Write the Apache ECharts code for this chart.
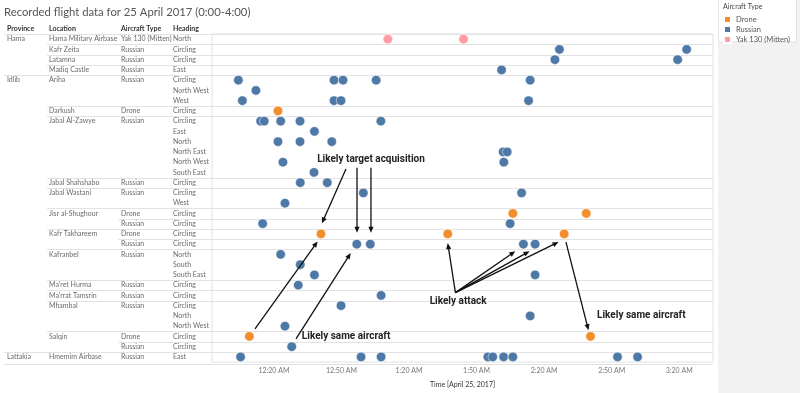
<!DOCTYPE html>
<html><head><meta charset="utf-8">
<script src="https://cdn.jsdelivr.net/npm/echarts@6/dist/echarts.min.js"></script>
<style>html,body{margin:0;padding:0;background:#fff}#c{width:800px;height:393px}</style>
</head><body><div id="c"></div>
<script>
// ---- table columns (one entry per row) ----
const provinces = ['Hama','','','','Idlib','','','','','','','','','','','','','','','','','','','','','','','','','','','Lattakia'];
const locations = ['Hama Military Airbase','Kafr Zeita','Latamna','Madiq Castle','Ariha','','','Darkush','Jabal Al-Zawye','','','','','','Jabal Shahshabo','Jabal Wastani','','Jisr al-Shughour','','Kafr Takhareem','','Kafranbel','','',"Ma'ret Hurma","Ma'rrat Tamsrin",'Mhambal','','','Salqin','','Hmemim Airbase'];
const aircraftTypes = ['Yak 130 (Mitten)','Russian','Russian','Russian','Russian','','','Drone','Russian','','','','','','Russian','Russian','','Drone','Russian','Drone','Russian','Russian','','','Russian','Russian','Russian','','','Drone','Russian','Russian'];
const headings = ['North','Circling','Circling','East','Circling','North West','West','Circling','Circling','East','North','North East','North West','South East','Circling','Circling','West','Circling','Circling','Circling','Circling','North','South','South East','Circling','Circling','Circling','North','North West','Circling','Circling','East'];
// minutes after 0:00 on 25 April 2017, per row
const flightTimes = [
  [70.6,104.2],
  [146.8,203.3],
  [144.8,199.3],
  [121.1],
  [4.2,46.7,50.7,65.4,133.8],
  [12.0],
  [6.0,46.7,49.8,133.1],
  [21.8],
  [14.1,15.7,23.0,31.6,67.5],
  [38.0],
  [21.8,31.6,45.7],
  [121.8,123.6],
  [24.0,122.1],
  [37.8],
  [31.7,43.7],
  [59.7,130.0],
  [24.9],
  [126.1,158.7],
  [15.0,124.9],
  [40.9,97.2,148.9],
  [56.8,62.8,130.8,136.0],
  [23.0],
  [31.7],
  [38.0,136.0],
  [30.8],
  [67.6],
  [49.8],
  [133.8],
  [24.9],
  [9.1,160.6],
  [27.9],
  [5.2,58.7,67.6,115.0,117.2,122.0,126.1,172.6,181.5]
];
const tickValues = [20,50,80,110,140,170,200];
const tickLabels = ['12:20 AM','12:50 AM','1:20 AM','1:50 AM','2:20 AM','2:50 AM','3:20 AM'];
const legendTypes = ['Drone','Russian','Yak 130 (Mitten)'];
const columnHeaders = ['Province','Location','Aircraft Type','Heading'];

// ---- styles ----
const typeColors = {'Drone':'#F28E2B','Russian':'#4E79A7','Yak 130 (Mitten)':'#FF9DA7'};
const FONT = "Lato, 'Noto Sans', sans-serif";
const ANNO_FONT = "'Liberation Sans Narrow', Roboto, sans-serif";
const colX = [7, 49, 121, 173];
const GRID = {left:212, top:34, right:87, bottom:28};

// resolve aircraft type per row (carry forward merged cells)
const rowAircraft = [];
aircraftTypes.forEach((a,i)=>{ rowAircraft.push(a || rowAircraft[i-1]); });
const rowIds = headings.map((_,i)=>String(i));

const series = legendTypes.map(type => ({
  name: type, type:'scatter', xAxisIndex:0, yAxisIndex:3,
  symbolSize: 9.5,
  itemStyle:{color:typeColors[type], borderColor:'#fff', borderWidth:0.5, opacity:1},
  emphasis:{disabled:true},
  data: flightTimes.flatMap((ts,r)=> rowAircraft[r]===type ? ts.map(t=>[t,r]) : [])
}));

const columns = [provinces, locations, aircraftTypes, headings];
const yAxes = columns.map((col,ci)=>({
  type:'category', gridIndex:0, inverse:true, data:rowIds, position:'left',
  axisLine:{show:false}, axisTick:{show:false}, splitLine:{show:false},
  axisLabel:{interval:0, align:'left', margin: GRID.left - colX[ci], fontSize:7, color:'#6b6b6b', fontFamily:FONT,
    formatter:(v,i)=>col[i]}
}));

const chart = echarts.init(document.getElementById('c'), null, {renderer:'canvas'});
chart.setOption({
  animation:false,
  grid:{...GRID, show:true, borderColor:'#e2e2e2', borderWidth:1, backgroundColor:'transparent'},
  legend:{data:legendTypes, orient:'vertical', left:723, top:15, itemWidth:7, itemHeight:7, itemGap:1, icon:'rect',
    textStyle:{fontSize:7.5, color:'#555', fontFamily:FONT}, selectedMode:false, padding:0},
  xAxis:{type:'value', min:-7.5, max:215, gridIndex:0,
    axisLine:{show:false}, axisTick:{show:false}, splitLine:{show:false},
    axisLabel:{customValues:tickValues, fontSize:7, color:'#777', margin:5, fontFamily:FONT,
      formatter:v=>{const k=tickValues.indexOf(v); return k>=0?tickLabels[k]:'';}},
    name:'Time [April 25, 2017]', nameLocation:'middle', nameGap:19,
    nameTextStyle:{fontSize:7, color:'#333', fontFamily:FONT}},
  yAxis:yAxes,
  series:series
});

// ---- overlay: table lines, headers, annotations, legend panel ----
const xPix = t => chart.convertToPixel({xAxisIndex:0}, t);
const yA = chart.convertToPixel({yAxisIndex:3}, 0), yB = chart.convertToPixel({yAxisIndex:3}, 1);
const yPix = r => yA + r*(yB-yA);
const gx0 = GRID.left, gx1 = 800-GRID.right, gy0 = GRID.top, gy1 = 393-GRID.bottom;
const g = [];
// legend panel
g.push({type:'rect', z:-10, shape:{x:718,y:0,width:82,height:393}, style:{fill:'#f2f2f2'}});
g.push({type:'rect', z:-9, shape:{x:718.5,y:-1,width:78,height:43}, style:{fill:'#fff', stroke:'#e2e2e2', lineWidth:1}});
g.push({type:'text', x:723, y:6.5, style:{text:'Aircraft Type', fontSize:7, fill:'#444', fontFamily:FONT, verticalAlign:'middle'}});
// title
g.push({type:'text', x:4, y:12.5, style:{text:'Recorded flight data for 25 April 2017 (0:00-4:00)', fontSize:11.3, fill:'#555', fontFamily:FONT, verticalAlign:'middle'}});
// headers
columnHeaders.forEach((h,i)=>g.push({type:'text', x:colX[i], y:28.5, style:{text:h, fontSize:7, fontWeight:'bold', fill:'#333', fontFamily:FONT, verticalAlign:'middle'}}));
// horizontal lines
const hline = (x0,y)=>g.push({type:'line', z:-1, shape:{x1:x0,y1:y,x2:gx1,y2:y}, style:{stroke:'#e2e2e2', lineWidth:1}});
hline(4, Math.round(gy0)+0.5);
hline(4, Math.round(gy1)-0.5);
for (let i=1;i<headings.length;i++){
  const y = Math.round((yPix(i-1)+yPix(i))/2)+0.5;
  if (provinces[i]) hline(4,y);
  else if (locations[i]) hline(47,y);
  else if (aircraftTypes[i]) hline(118,y);
}
// annotations (data coordinates: minutes, row)
const arrows = [
  [52.0,12.66,41.3,17.97],[56.9,12.56,56.9,18.9],[63.1,12.56,63.1,18.9],
  [11.6,28.28,39.4,19.74],[29.8,29.25,54.1,20.87],
  [100.6,24.73,97.2,19.9],[100.6,24.73,127.2,20.7],[100.6,24.73,133.5,20.7],[100.6,24.73,146.4,19.8],
  [149.7,19.81,159.7,28.4]
];
const notes = [
  ['Likely target acquisition',63.1,11.79,'center'],
  ['Likely same aircraft',32.4,29.0,'left'],
  ['Likely attack',101.8,25.55,'center'],
  ['Likely same aircraft',163.5,27.0,'left']
];
arrows.forEach(([t0,r0,t1,r1])=>{
  const x0=xPix(t0), y0=yPix(r0), x1=xPix(t1), y1=yPix(r1);
  const L=Math.hypot(x1-x0,y1-y0), dx=(x1-x0)/L, dy=(y1-y0)/L, nx=-dy, ny=dx;
  const hl=6, hw=2.6;
  g.push({type:'line', z:50, shape:{x1:x0,y1:y0,x2:x1-dx*hl*0.8,y2:y1-dy*hl*0.8}, style:{stroke:'#111', lineWidth:1.3}});
  g.push({type:'polygon', z:50, shape:{points:[[x1,y1],[x1-dx*hl+nx*hw,y1-dy*hl+ny*hw],[x1-dx*hl-nx*hw,y1-dy*hl-ny*hw]]}, style:{fill:'#111'}});
});
notes.forEach(([txt,t,r,al])=>g.push({type:'text', z:51, x:xPix(t), y:yPix(r), style:{text:txt, fontSize:10, fontWeight:'bold', fill:'#222', fontFamily:ANNO_FONT, align:al, verticalAlign:'middle'}}));
chart.setOption({graphic:g});
</script></body></html>
